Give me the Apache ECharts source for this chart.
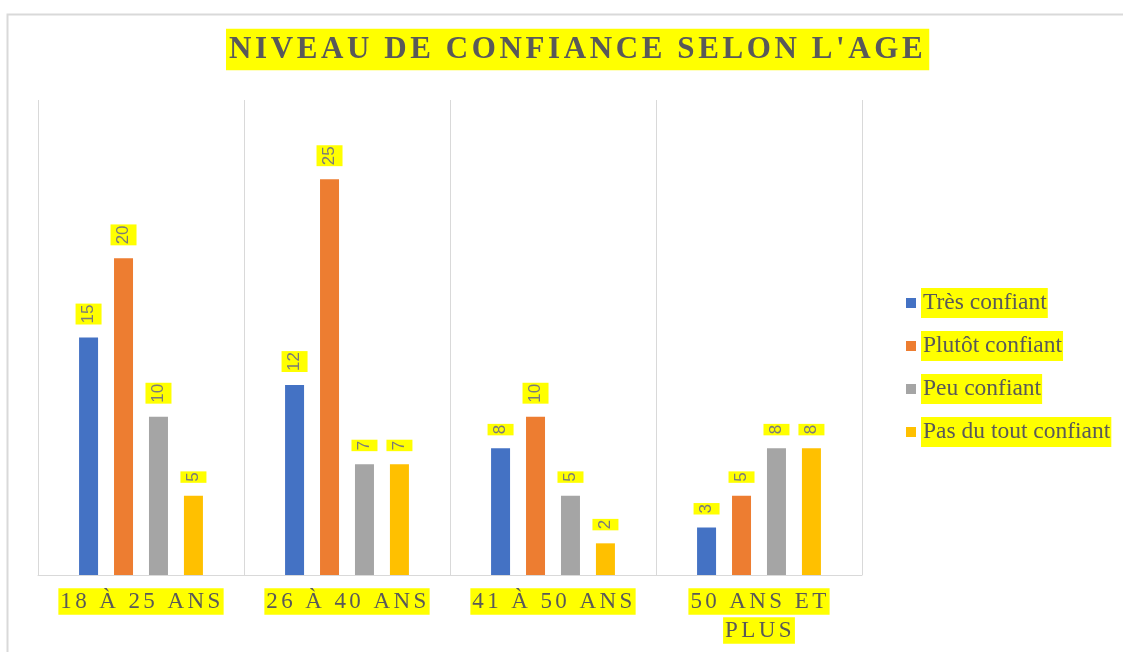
<!DOCTYPE html>
<html>
<head>
<meta charset="utf-8">
<script src="https://cdn.jsdelivr.net/npm/echarts@6/dist/echarts.min.js"></script>
<style>
html,body{margin:0;padding:0;background:#fff;}
#chart{width:1123px;height:652px;}
</style>
</head>
<body>
<div id="chart"></div>
<script>
// ---- data ----
const TITLE = "NIVEAU DE CONFIANCE SELON L'AGE";
const categories = ["18 À 25 ANS", "26 À 40 ANS", "41 À 50 ANS", "50 ANS ET PLUS"];
const seriesNames = ["Très confiant", "Plutôt confiant", "Peu confiant", "Pas du tout confiant"];
const tresConfiant = [15, 12, 8, 3];
const plutotConfiant = [20, 25, 10, 5];
const peuConfiant = [10, 7, 5, 8];
const pasDuToutConfiant = [5, 7, 2, 8];

// letter spacing for the spaced serif texts (title and category labels)
(function () {
  const P = CanvasRenderingContext2D.prototype;
  if (!('letterSpacing' in P)) return;
  function spacing(font) {
    if (!/Liberation Serif/.test(font)) return '0px';
    const m = /(\d+(?:\.\d+)?)px/.exec(font);
    const s = m ? parseFloat(m[1]) : 0;
    if (s === 31) return '3.6px';
    if (s === 23) return '3.4px';
    return '0px';
  }
  ['fillText', 'strokeText', 'measureText'].forEach(function (fn) {
    const orig = P[fn];
    P[fn] = function () {
      try { this.letterSpacing = spacing(this.font); } catch (e) {}
      return orig.apply(this, arguments);
    };
  });
})();

const colors = ['#4472C4', '#ED7D31', '#A5A5A5', '#FFC000'];
const YELLOW = '#FFFF00';
const TEXT = '#595959';

const chart = echarts.init(document.getElementById('chart'), null, { renderer: 'canvas' });

const valueSets = [tresConfiant, plutotConfiant, peuConfiant, pasDuToutConfiant];

const option = {
  animation: false,
  backgroundColor: '#ffffff',
  color: colors,
  graphic: [{
    type: 'rect',
    left: 5, top: 12, z: -10,
    shape: { width: 1140, height: 700 },
    style: { fill: 'none', stroke: '#d9d9d9', lineWidth: 2 }
  }],
  title: {
    text: TITLE,
    left: 226, top: 31,
    padding: [4, 3, 3, 3],
    backgroundColor: YELLOW,
    textStyle: {
      fontFamily: 'Liberation Serif',
      fontWeight: 'bold',
      fontSize: 31,
      lineHeight: 30,
      color: TEXT
    }
  },
  legend: {
    orient: 'vertical',
    left: 906, top: 288,
    padding: 0,
    itemGap: 13,
    itemWidth: 10, itemHeight: 10,
    icon: 'rect',
    data: seriesNames,
    textStyle: {
      fontFamily: 'Liberation Serif',
      fontSize: 23.5,
      lineHeight: 24,
      color: TEXT,
      backgroundColor: YELLOW,
      padding: [3, 1, 3, 2]
    }
  },
  grid: { left: 38, right: 261, top: 100, bottom: 77 },
  xAxis: {
    type: 'category',
    data: categories,
    axisLine: { lineStyle: { color: '#d9d9d9', width: 1 } },
    axisTick: { show: false },
    splitLine: { show: true, lineStyle: { color: '#d9d9d9', width: 1 } },
    axisLabel: {
      margin: 12,
      interval: 0,
      formatter: function (v) {
        if (v.length > 12) {
          const w = v.split(' ');
          return '{h|' + w.slice(0, 3).join(' ') + '}\n{h|' + w.slice(3).join(' ') + '}';
        }
        return '{h|' + v + '}';
      },
      rich: {
        h: {
          fontFamily: 'Liberation Serif',
          fontSize: 23,
          lineHeight: 29,
          color: TEXT,
          backgroundColor: YELLOW,
          padding: [0, 0, 0, 2]
        }
      }
    }
  },
  yAxis: {
    type: 'value',
    min: 0, max: 30,
    show: false,
    splitLine: { show: false }
  },
  series: seriesNames.map(function (name, i) {
    return {
      name: name,
      type: 'bar',
      data: valueSets[i],
      barWidth: 19,
      barGap: '84%',
      itemStyle: { color: colors[i] },
      label: {
        show: true,
        position: 'top',
        distance: 13,
        rotate: 90,
        align: 'left',
        verticalAlign: 'middle',
        fontFamily: 'Liberation Sans',
        fontSize: 17,
        lineHeight: 20,
        color: '#7a7a7a',
        backgroundColor: YELLOW,
        padding: [3, 1, 3, 1]
      }
    };
  })
};

chart.setOption(option);
</script>
</body>
</html>
